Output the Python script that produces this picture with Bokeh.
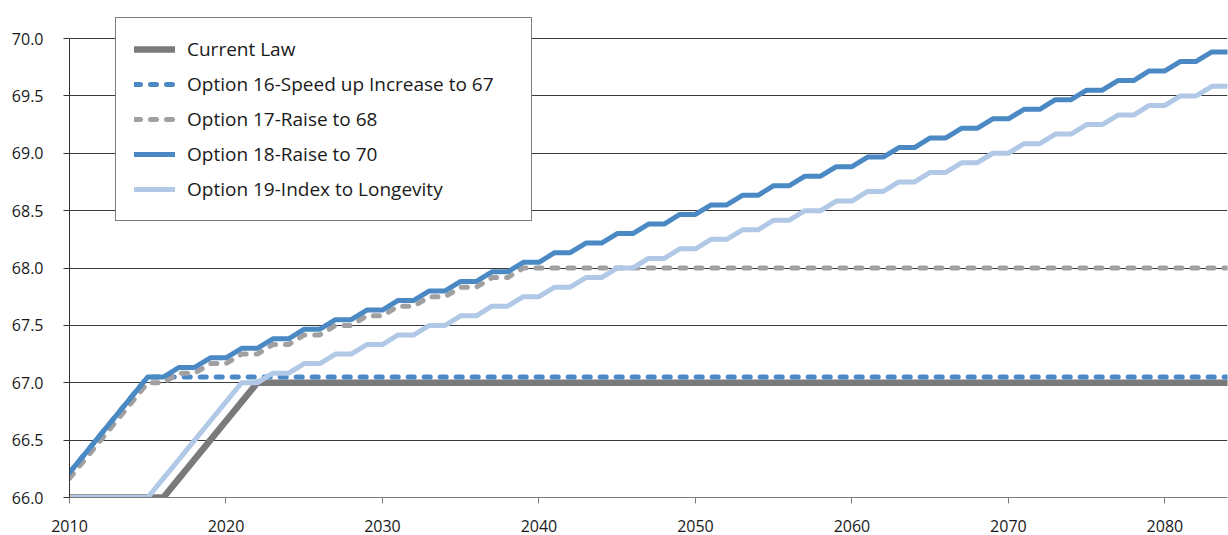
from bokeh.plotting import figure
from bokeh.models import Range1d, FixedTicker, PrintfTickFormatter, Legend, LegendItem
from bokeh.embed import file_html
from bokeh.resources import INLINE

# Full retirement age by year, 2010-2084
years = list(range(2010, 2085))

current_law = [
    66.0, 66.0, 66.0, 66.0, 66.0, 66.0, 66.0, 66.167, 66.333, 66.5,
    66.667, 66.833, 67.0, 67.0, 67.0, 67.0, 67.0, 67.0, 67.0, 67.0,
    67.0, 67.0, 67.0, 67.0, 67.0, 67.0, 67.0, 67.0, 67.0, 67.0,
    67.0, 67.0, 67.0, 67.0, 67.0, 67.0, 67.0, 67.0, 67.0, 67.0,
    67.0, 67.0, 67.0, 67.0, 67.0, 67.0, 67.0, 67.0, 67.0, 67.0,
    67.0, 67.0, 67.0, 67.0, 67.0, 67.0, 67.0, 67.0, 67.0, 67.0,
    67.0, 67.0, 67.0, 67.0, 67.0, 67.0, 67.0, 67.0, 67.0, 67.0,
    67.0, 67.0, 67.0, 67.0, 67.0,
]

option_16 = [
    66.217, 66.383, 66.55, 66.717, 66.883, 67.05, 67.05, 67.05, 67.05, 67.05,
    67.05, 67.05, 67.05, 67.05, 67.05, 67.05, 67.05, 67.05, 67.05, 67.05,
    67.05, 67.05, 67.05, 67.05, 67.05, 67.05, 67.05, 67.05, 67.05, 67.05,
    67.05, 67.05, 67.05, 67.05, 67.05, 67.05, 67.05, 67.05, 67.05, 67.05,
    67.05, 67.05, 67.05, 67.05, 67.05, 67.05, 67.05, 67.05, 67.05, 67.05,
    67.05, 67.05, 67.05, 67.05, 67.05, 67.05, 67.05, 67.05, 67.05, 67.05,
    67.05, 67.05, 67.05, 67.05, 67.05, 67.05, 67.05, 67.05, 67.05, 67.05,
    67.05, 67.05, 67.05, 67.05, 67.05,
]

option_17 = [
    66.167, 66.333, 66.5, 66.667, 66.833, 67.0, 67.0, 67.083, 67.083, 67.167,
    67.167, 67.25, 67.25, 67.333, 67.333, 67.417, 67.417, 67.5, 67.5, 67.583,
    67.583, 67.667, 67.667, 67.75, 67.75, 67.833, 67.833, 67.917, 67.917, 68.0,
    68.0, 68.0, 68.0, 68.0, 68.0, 68.0, 68.0, 68.0, 68.0, 68.0,
    68.0, 68.0, 68.0, 68.0, 68.0, 68.0, 68.0, 68.0, 68.0, 68.0,
    68.0, 68.0, 68.0, 68.0, 68.0, 68.0, 68.0, 68.0, 68.0, 68.0,
    68.0, 68.0, 68.0, 68.0, 68.0, 68.0, 68.0, 68.0, 68.0, 68.0,
    68.0, 68.0, 68.0, 68.0, 68.0,
]

option_18 = [
    66.217, 66.383, 66.55, 66.717, 66.883, 67.05, 67.05, 67.133, 67.133, 67.217,
    67.217, 67.3, 67.3, 67.383, 67.383, 67.467, 67.467, 67.55, 67.55, 67.633,
    67.633, 67.717, 67.717, 67.8, 67.8, 67.883, 67.883, 67.967, 67.967, 68.05,
    68.05, 68.133, 68.133, 68.217, 68.217, 68.3, 68.3, 68.383, 68.383, 68.467,
    68.467, 68.55, 68.55, 68.633, 68.633, 68.717, 68.717, 68.8, 68.8, 68.883,
    68.883, 68.967, 68.967, 69.05, 69.05, 69.133, 69.133, 69.217, 69.217, 69.3,
    69.3, 69.383, 69.383, 69.467, 69.467, 69.55, 69.55, 69.633, 69.633, 69.717,
    69.717, 69.8, 69.8, 69.883, 69.883,
]

option_19 = [
    66.0, 66.0, 66.0, 66.0, 66.0, 66.0, 66.167, 66.333, 66.5, 66.667,
    66.833, 67.0, 67.0, 67.083, 67.083, 67.167, 67.167, 67.25, 67.25, 67.333,
    67.333, 67.417, 67.417, 67.5, 67.5, 67.583, 67.583, 67.667, 67.667, 67.75,
    67.75, 67.833, 67.833, 67.917, 67.917, 68.0, 68.0, 68.083, 68.083, 68.167,
    68.167, 68.25, 68.25, 68.333, 68.333, 68.417, 68.417, 68.5, 68.5, 68.583,
    68.583, 68.667, 68.667, 68.75, 68.75, 68.833, 68.833, 68.917, 68.917, 69.0,
    69.0, 69.083, 69.083, 69.167, 69.167, 69.25, 69.25, 69.333, 69.333, 69.417,
    69.417, 69.5, 69.5, 69.583, 69.583,
]

labels = [
    "Current Law",
    "Option 16-Speed up Increase to 67",
    "Option 17-Raise to 68",
    "Option 18-Raise to 70",
    "Option 19-Index to Longevity",
]

y_ticks = [66.0, 66.5, 67.0, 67.5, 68.0, 68.5, 69.0, 69.5, 70.0]
x_ticks = [2010, 2020, 2030, 2040, 2050, 2060, 2070, 2080]

FONT = "Open Sans"

# frame spans 10..497 px; the value axis stops at 70.0, the space above
# holds the top of the legend box
PX_PER_UNIT = 459 / 4.0
Y_TOP = 70.0 + 28 / PX_PER_UNIT

p = figure(
    width=1228, height=535,
    output_backend="svg", toolbar_location=None,
    x_range=Range1d(2010, 2084), y_range=Range1d(66, Y_TOP),
    min_border_left=69, min_border_right=1,
    min_border_top=10, min_border_bottom=38,
)
p.outline_line_color = None
p.background_fill_color = "white"
p.border_fill_color = "white"

# grid
p.xgrid.grid_line_color = None
p.ygrid.grid_line_color = "#3a3a3a"
p.ygrid.grid_line_width = 1

# axes
p.yaxis.bounds = (66, 70)
p.yaxis.ticker = FixedTicker(ticks=y_ticks)
p.yaxis.formatter = PrintfTickFormatter(format="%.1f")
p.yaxis.axis_line_color = "#333333"
p.yaxis.major_tick_line_color = "#333333"
p.yaxis.major_tick_out = 6
p.yaxis.major_tick_in = 0
p.yaxis.minor_tick_line_color = None
p.yaxis.major_label_standoff = 20
p.yaxis.major_label_text_font = FONT
p.yaxis.major_label_text_font_size = "16px"
p.yaxis.major_label_text_color = "#1a1a1a"

p.xaxis.ticker = FixedTicker(ticks=x_ticks)
p.xaxis.axis_line_color = "#7a7a7a"
p.xaxis.major_tick_line_color = "#7a7a7a"
p.xaxis.major_tick_out = 6
p.xaxis.major_tick_in = 0
p.xaxis.minor_tick_line_color = None
p.xaxis.major_label_standoff = 16
p.xaxis.major_label_text_line_height = 0.8
p.xaxis.major_label_text_font = FONT
p.xaxis.major_label_text_font_size = "16px"
p.xaxis.major_label_text_color = "#1a1a1a"

styles = [
    dict(color="#7a7a7a", width=6.5, dash="solid"),
    dict(color="#4a89c4", width=5, dash="6 10"),
    dict(color="#a0a0a0", width=5, dash="6 10"),
    dict(color="#4a89c4", width=5, dash="solid"),
    dict(color="#b1c8e6", width=5, dash="solid"),
]
series = [current_law, option_16, option_17, option_18, option_19]

items = []
for label, vals, st in zip(labels, series, styles):
    r = p.line(years, vals, line_color=st["color"], line_width=st["width"],
               line_dash=st["dash"], line_cap="round", line_join="round")
    items.append(LegendItem(label=label, renderers=[r]))

legend = Legend(
    items=items, location=(46, 276),
    label_text_font=FONT, label_text_font_size="19px", label_text_color="#1a1a1a",
    glyph_width=41, glyph_height=22, label_height=22, label_standoff=12,
    spacing=9, padding=18, label_width=326,
    border_line_color="black", border_line_width=1,
    background_fill_color="white", background_fill_alpha=1.0,
)
p.add_layout(legend, "center")

open("out.html", "w").write(file_html(p, INLINE))
